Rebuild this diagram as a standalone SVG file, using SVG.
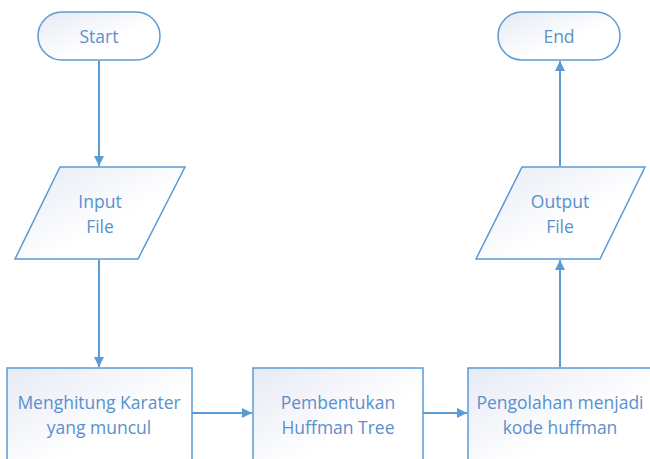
<svg xmlns="http://www.w3.org/2000/svg" width="650" height="459" viewBox="0 0 650 459">
<defs>
<linearGradient id="g" x1="0" y1="0" x2="1" y2="1">
<stop offset="0" stop-color="#e6eaf5"/>
<stop offset="0.6" stop-color="#ffffff"/>
<stop offset="1" stop-color="#ffffff"/>
</linearGradient>
<marker id="ah" viewBox="0 0 10 10" refX="10" refY="5" markerWidth="10" markerHeight="10" markerUnits="userSpaceOnUse" orient="auto">
<path d="M0,0 L10,5 L0,10 Z" fill="#5b9bd5"/>
</marker>
</defs>
<style>
.s{fill:url(#g);stroke:#5b9bd5;stroke-width:1.5}
.t{font-family:"Open Sans","Liberation Sans",sans-serif;font-size:17.5px;fill:#5a90cc;text-anchor:middle}
.c{stroke:#5b9bd5;stroke-width:2;fill:none;marker-end:url(#ah)}
</style>
<rect width="650" height="459" fill="#ffffff"/>
<g id="connectors">
<line class="c" x1="99" y1="61" x2="99" y2="166"/>
<line class="c" x1="99" y1="260" x2="99" y2="367"/>
<line class="c" x1="192" y1="413" x2="252" y2="413"/>
<line class="c" x1="423" y1="413" x2="467" y2="413"/>
<line class="c" x1="560" y1="367" x2="560" y2="260"/>
<line class="c" x1="560" y1="166" x2="560" y2="61"/>
</g>
<g id="start">
<rect class="s" x="38" y="12" width="122" height="48" rx="24"/>
<text class="t" x="99" y="43">Start</text>
</g>
<g id="input">
<polygon class="s" points="60,167 185,167 138,259 15,259"/>
<text class="t" x="100" y="208">Input</text>
<text class="t" x="100" y="233">File</text>
</g>
<g id="hitung">
<rect class="s" x="7" y="368" width="185" height="100"/>
<text class="t" x="99" y="409">Menghitung Karater</text>
<text class="t" x="99" y="434">yang muncul</text>
</g>
<g id="pembentukan">
<rect class="s" x="253" y="368" width="170" height="100"/>
<text class="t" x="338" y="409">Pembentukan</text>
<text class="t" x="338" y="434">Huffman Tree</text>
</g>
<g id="pengolahan">
<rect class="s" x="468" y="368" width="190" height="100"/>
<text class="t" x="560" y="409">Pengolahan menjadi</text>
<text class="t" x="560" y="434">kode huffman</text>
</g>
<g id="output">
<polygon class="s" points="522,167 645,167 600,259 476,259"/>
<text class="t" x="560" y="208">Output</text>
<text class="t" x="560" y="233">File</text>
</g>
<g id="end">
<rect class="s" x="498" y="12" width="122" height="48" rx="24"/>
<text class="t" x="559" y="43">End</text>
</g>
</svg>
